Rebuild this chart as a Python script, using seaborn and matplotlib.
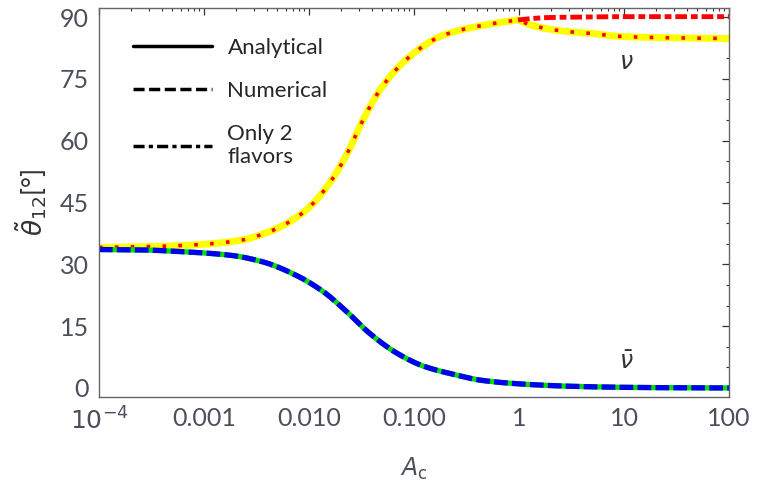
import matplotlib
matplotlib.use('Agg')
import matplotlib.pyplot as plt
from matplotlib.lines import Line2D
from matplotlib.ticker import FixedLocator, LogLocator, NullFormatter
import numpy as np
import pandas as pd
import seaborn as sns

# values (log10 of A_c, mixing angle in degrees)
# neutrino curve, before and after the kink at A_c = 1
nu_logA_low = [-4.0, -3.5, -3.04, -2.66, -2.36, -2.09, -1.96, -1.78, -1.63, -1.49,
               -1.34, -1.15, -0.93, -0.75, -0.55, -0.34, -0.18, -0.01]
nu_theta_low = [34.1, 34.3, 34.8, 35.8, 38.1, 41.9, 44.8, 50.6, 57.2, 64.8,
                71.7, 77.8, 82.6, 85.3, 86.9, 88.0, 88.7, 89.3]
nu_logA_high = [-0.01, 0.12, 0.42, 0.74, 0.9, 1.37, 2.0]
nu_theta_high = [89.3, 88.0, 86.6, 85.9, 85.4, 85.0, 84.8]

nubar_logA = [-4.0, -3.6, -3.23, -2.75, -2.44, -2.12, -1.86, -1.64, -1.42, -1.16,
              -0.91, -0.59, -0.37, -0.11, 0.2, 0.5, 1.0, 1.5, 2.0]
nubar_theta = [33.6, 33.5, 33.1, 32.2, 30.6, 27.3, 23.3, 18.5, 13.2, 8.4,
               5.3, 3.1, 1.9, 1.2, 0.7, 0.4, 0.15, 0.05, 0.0]

two_flavor_logA = [-0.01, 0.15, 0.3, 0.6, 1.0, 1.5, 2.0]
two_flavor_theta = [89.3, 89.7, 89.9, 90.0, 90.1, 90.1, 90.1]

xtick_vals = [1e-4, 1e-3, 1e-2, 1e-1, 1, 10, 100]
xtick_labels = [r'$10^{-4}$', '0.001', '0.010', '0.100', '1', '10', '100']
ytick_vals = [0, 15, 30, 45, 60, 75, 90]


def pchip(x, y, xs):
    # monotone cubic through the read points
    x = np.asarray(x, float)
    y = np.asarray(y, float)
    h = np.diff(x)
    d = np.diff(y) / h
    m = np.zeros_like(y)
    m[0], m[-1] = d[0], d[-1]
    for i in range(1, len(x) - 1):
        if d[i - 1] * d[i] > 0:
            w1 = 2 * h[i] + h[i - 1]
            w2 = h[i] + 2 * h[i - 1]
            m[i] = (w1 + w2) / (w1 / d[i - 1] + w2 / d[i])
    idx = np.clip(np.searchsorted(x, xs) - 1, 0, len(h) - 1)
    t = (xs - x[idx]) / h[idx]
    hh = h[idx]
    return ((2 * t**3 - 3 * t**2 + 1) * y[idx] + (t**3 - 2 * t**2 + t) * hh * m[idx]
            + (-2 * t**3 + 3 * t**2) * y[idx + 1] + (t**3 - t**2) * hh * m[idx + 1])


def curve(logA, theta, n=300):
    xs = np.linspace(logA[0], logA[-1], n)
    return pd.DataFrame({'A': 10 ** xs, 'theta': pchip(logA, theta, xs)})


nu = pd.concat([curve(nu_logA_low, nu_theta_low), curve(nu_logA_high, nu_theta_high, 120)],
               ignore_index=True)
nubar = curve(nubar_logA, nubar_theta)
two = curve(two_flavor_logA, two_flavor_theta, 80)

sns.set_theme(style='white')
plt.rcParams['font.family'] = ['Lato', 'DejaVu Sans']
plt.rcParams['mathtext.fontset'] = 'dejavusans'

fig = plt.figure(figsize=(7.67, 4.82), dpi=100)
ax = fig.add_axes([0.129, 0.1763, 0.8215, 0.8071])

# nu: analytical (yellow) + numerical (red dashes)
sns.lineplot(data=nu, x='A', y='theta', ax=ax, color='#ffff00', lw=5.0, sort=False)
sns.lineplot(data=nu, x='A', y='theta', ax=ax, color='#ff0000', lw=2.6, sort=False)
ax.lines[-1].set_dashes((1.0, 3.4))
# only 2 flavours
sns.lineplot(data=two, x='A', y='theta', ax=ax, color='#ff0000', lw=3.5)
ax.lines[-1].set_dashes((2.4, 0.8, 1.4, 0.8))
# nubar: analytical (green) + numerical (blue dashes)
sns.lineplot(data=nubar, x='A', y='theta', ax=ax, color='#00e000', lw=3.8)
sns.lineplot(data=nubar, x='A', y='theta', ax=ax, color='#0000ee', lw=3.8)
ax.lines[-1].set_dashes((2.6, 0.8))

ax.set_xscale('log')
ax.set_xlim(1e-4, 100)
ax.set_ylim(-2.2, 92.2)

ax.xaxis.set_major_locator(FixedLocator(xtick_vals))
ax.set_xticklabels(xtick_labels)
ax.xaxis.set_minor_locator(LogLocator(base=10, subs=np.arange(2, 10)))
ax.xaxis.set_minor_formatter(NullFormatter())
ax.set_yticks(ytick_vals)
ax.set_yticks([v for v in range(5, 90, 5) if v % 15], minor=True)

grey = '#4a4f5a'
for s in ax.spines.values():
    s.set_color('#666666')
    s.set_linewidth(1.0)
ax.tick_params(which='both', direction='in', top=True, right=True, color='#333333',
               labelcolor=grey, labelsize=18, pad=7)
ax.tick_params(which='major', length=5, width=0.9)
ax.tick_params(which='minor', length=2.5, width=0.8)

ax.set_xlabel(r'$A_\mathrm{c}$', fontsize=17, color=grey, labelpad=16)
ax.set_ylabel(r'$\tilde{\theta}_{12}$[°]', fontsize=19, color='#333333', labelpad=8)

ax.text(10.5, 79.0, r'$\nu$', fontsize=17, color='#333333', ha='center', va='center')
ax.text(10.5, 6.5, r'$\bar{\nu}$', fontsize=17, color='#333333', ha='center', va='center')

handles = [Line2D([], [], color='black', lw=2.5),
           Line2D([], [], color='black', lw=2.5, dashes=(3.2, 1.3)),
           Line2D([], [], color='black', lw=2.5, dashes=(3.2, 1.2, 1.2, 1.2))]
ax.legend(handles, ['Analytical', 'Numerical', 'Only 2\nflavors'], loc='upper left',
          bbox_to_anchor=(0.04, 0.947), frameon=False, fontsize=16, handlelength=3.55,
          handletextpad=0.7, labelspacing=1.05, borderaxespad=0)

fig.savefig('out.png', dpi=100)
